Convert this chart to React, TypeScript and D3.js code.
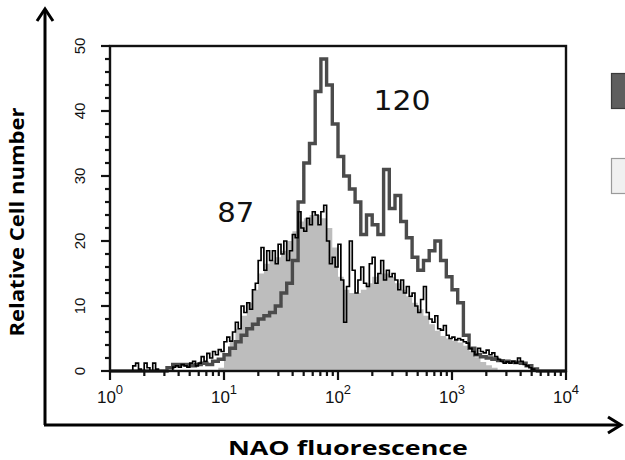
import React from 'react';
import * as d3 from 'd3';

// Histogram bins (log10 decade steps)
const stepCoarse = 0.05;
const stepFine = 0.025;

const yTickValues = [0, 10, 20, 30, 40, 50];
const xDecades = [0, 1, 2, 3, 4];

// Control (filled gray)
const grayFill = [
  0, 0, 0, 0, 0, 0, 0, 0, 0, 0,
  0, 0, 0, 0, 0, 0, 0, 0, 0, 0.5,
  2.5, 4.5, 6.5, 8.5, 10.5, 12.5, 15, 16.5, 17, 17.5,
  18.5, 20, 21.5, 23, 23.5, 24, 24, 23.5, 22, 19,
  14.5, 12.5, 12, 12, 12.5, 13.5, 14.5, 15, 15, 14.5,
  13.5, 12.5, 11.5, 10.5, 9.5, 8.5, 7.2, 6.2, 5.4, 5,
  4.7, 4.4, 3.9, 3.1, 2.1, 1.4, 0.9, 0.5, 0.1, 0,
  0, 0, 0, 0, 0, 0, 0, 0, 0, 0,
];

// Sample "120" (thick dark gray line)
const dark120 = [
  0, 0, 0, 0, 0, 0, 0, 0, 0, 0,
  0.5, 1, 1, 1, 0.8, 1, 1.2, 1, 1.5, 1.8,
  2.5, 3.5, 4.5, 5.5, 6.5, 7.2, 8, 8.5, 9, 10,
  12, 13.5, 17, 26, 32, 35, 43, 48, 44, 38,
  33, 30, 28, 26, 21, 24, 22.5, 21, 31, 25,
  27, 23, 20.5, 17.5, 15.5, 17, 18.5, 20, 17, 14.5,
  12.5, 10.5, 5.5, 3.5, 2.5, 2.2, 2, 1.8, 1.6, 1.5,
  1.4, 1.3, 1.2, 0.8, 0.3, 0, 0, 0, 0, 0,
];

// Sample "87" (thin black line)
const black87 = [
  0, 0, 0, 0, 0, 0, 0, 0, 0.8, 1.2,
  0.3, 0, 1.2, 0.5, 0, 1.2, 0.3, 0, 0, 0,
  0, 0, 0.6, 0.8, 0.6, 1, 0.8, 0.6, 1.2, 1.5,
  0.8, 1.2, 2.2, 1.5, 2.7, 2, 3, 2.5, 3.3, 3,
  4.5, 5.2, 4.6, 6, 7.5, 6.5, 10, 9, 10.5, 9.5,
  12.5, 13.5, 17, 19, 15.5, 18.5, 17, 18.5, 16.5, 19.5,
  18, 20, 17, 18.5, 21, 20.5, 24.5, 22, 21.5, 23.5,
  22.5, 24.5, 24, 22.5, 24.5, 25.5, 20, 16.5, 17.5, 16,
  19.5, 14, 7.5, 13, 20, 15.5, 12, 14, 16, 13.5,
  13, 16.5, 17.5, 13.5, 15, 17, 14, 15.5, 14.5, 15,
  14, 12.5, 14, 12, 13, 11.5, 12, 10, 9, 11,
  13, 9, 8, 7.5, 8.5, 6.5, 6.3, 7, 5.5, 5,
  5.2, 4.8, 5, 4.8, 4.5, 4.3, 3.5, 3, 2.5, 3.5,
  3, 2.8, 3.2, 2.5, 2.8, 2.2, 1.8, 1.5, 1.2, 1.4,
  1.2, 1.5, 1.2, 2, 1.5, 1, 0.8, 0.5, 0.3, 0,
  0, 0, 0, 0, 0, 0, 0, 0, 0, 0,
];

const annotations = [
  { text: '87', x: 12.7, y: 22.9, len: 37 },
  { text: '120', x: 365, y: 40.1, len: 57 },
];

const xTitle = 'NAO fluorescence';
const yTitle = 'Relative Cell number';

export default function App() {
  const x = d3.scaleLog().domain([1, 1e4]).range([110, 566]);
  const y = d3.scaleLinear().domain([0, 50]).range([371, 46]);

  const toPts = (vals: number[], step: number) => {
    const pts: [number, number][] = vals.map((v, i) => [x(Math.pow(10, i * step)), y(v)]);
    pts.push([x(Math.pow(10, vals.length * step)), y(vals[vals.length - 1])]);
    return pts;
  };

  const line = d3.line().curve(d3.curveStepAfter);
  const area = d3
    .area<[number, number]>()
    .x((d) => d[0])
    .y0(y(0))
    .y1((d) => d[1])
    .curve(d3.curveStepAfter);

  const minorX: number[] = [];
  for (let d = 0; d < 4; d++) for (let m = 2; m <= 9; m++) minorX.push(m * Math.pow(10, d));
  const minorY = d3.range(0, 51, 2).filter((v) => v % 10 !== 0);

  const fontNum = '"Liberation Sans", Arial, sans-serif';
  const fontTitle = '"Open Sans", "DejaVu Sans", sans-serif';

  return (
    <svg
      width={625}
      height={460}
      style={{ position: 'absolute', left: 0, top: 0, background: '#fff' }}
    >
      <rect x={0} y={0} width={625} height={460} fill="#fff" />
      {/* histograms */}
      <path d={area(toPts(grayFill, stepCoarse)) || ''} fill="#bdbdbd" stroke="none" />
      <path
        d={line(toPts(dark120, stepCoarse)) || ''}
        fill="none"
        stroke="#4b4b4b"
        strokeWidth={3.4}
        strokeLinejoin="miter"
      />
      <path
        d={line(toPts(black87, stepFine)) || ''}
        fill="none"
        stroke="#000"
        strokeWidth={1.7}
      />

      {/* frame */}
      <rect x={110} y={46} width={456} height={325} fill="none" stroke="#111" strokeWidth={2.4} />

      {/* x ticks */}
      {xDecades.map((d) => (
        <line key={'xM' + d} x1={x(Math.pow(10, d))} x2={x(Math.pow(10, d))} y1={371} y2={380} stroke="#111" strokeWidth={2.2} />
      ))}
      {minorX.map((v, i) => (
        <line key={'xm' + i} x1={x(v)} x2={x(v)} y1={371} y2={376} stroke="#111" strokeWidth={2.2} />
      ))}
      {xDecades.map((d) => (
        <text
          key={'xl' + d}
          x={x(Math.pow(10, d))}
          y={403}
          textAnchor="middle"
          fontFamily={fontNum}
          fontSize={17}
          fill="#111"
        >
          10
          <tspan dy={-9} fontSize={13}>
            {String(d)}
          </tspan>
        </text>
      ))}

      {/* y ticks */}
      {yTickValues.map((v) => (
        <line key={'yM' + v} x1={101} x2={110} y1={y(v)} y2={y(v)} stroke="#111" strokeWidth={2.2} />
      ))}
      {minorY.map((v) => (
        <line key={'ym' + v} x1={105} x2={110} y1={y(v)} y2={y(v)} stroke="#111" strokeWidth={2.2} />
      ))}
      {yTickValues.map((v) => (
        <text
          key={'yl' + v}
          transform={`translate(85,${y(v)}) rotate(-90)`}
          textAnchor="middle"
          fontFamily={fontNum}
          fontSize={15}
          fill="#111"
        >
          {String(v)}
        </text>
      ))}

      {/* annotations */}
      {annotations.map((a) => (
        <text
          key={a.text}
          x={x(a.x)}
          y={y(a.y)}
          textAnchor="middle"
          fontFamily='"DejaVu Sans", sans-serif'
          fontSize={26}
          textLength={a.len}
          lengthAdjust="spacingAndGlyphs"
          fill="#111"
        >
          {a.text}
        </text>
      ))}

      {/* legend swatches (clipped at right edge) */}
      <rect x={611.5} y={73.5} width={30} height={35} fill="#5e5e5e" stroke="#3a3a3a" strokeWidth={1.2} />
      <rect x={611.5} y={158.5} width={30} height={35} fill="#f0f0f0" stroke="#9a9a9a" strokeWidth={1.2} />

      {/* outer arrows */}
      <line x1={45} y1={425} x2={45} y2={10} stroke="#000" strokeWidth={3} />
      <polyline points="37,21 45,9 53,21" fill="none" stroke="#000" strokeWidth={3} />
      <line x1={44} y1={425} x2={621} y2={425} stroke="#000" strokeWidth={3} />
      <polyline points="608,417 621,425 608,433" fill="none" stroke="#000" strokeWidth={3} />

      {/* titles */}
      <text
        x={348}
        y={455}
        textAnchor="middle"
        fontFamily={fontTitle}
        fontWeight="bold"
        fontSize={20}
        textLength={240}
        lengthAdjust="spacingAndGlyphs"
        fill="#000"
      >
        {xTitle}
      </text>
      <text
        transform="translate(24,222) rotate(-90)"
        textAnchor="middle"
        fontFamily={fontTitle}
        fontWeight="bold"
        fontSize={20}
        textLength={229}
        lengthAdjust="spacingAndGlyphs"
        fill="#000"
      >
        {yTitle}
      </text>
    </svg>
  );
}
